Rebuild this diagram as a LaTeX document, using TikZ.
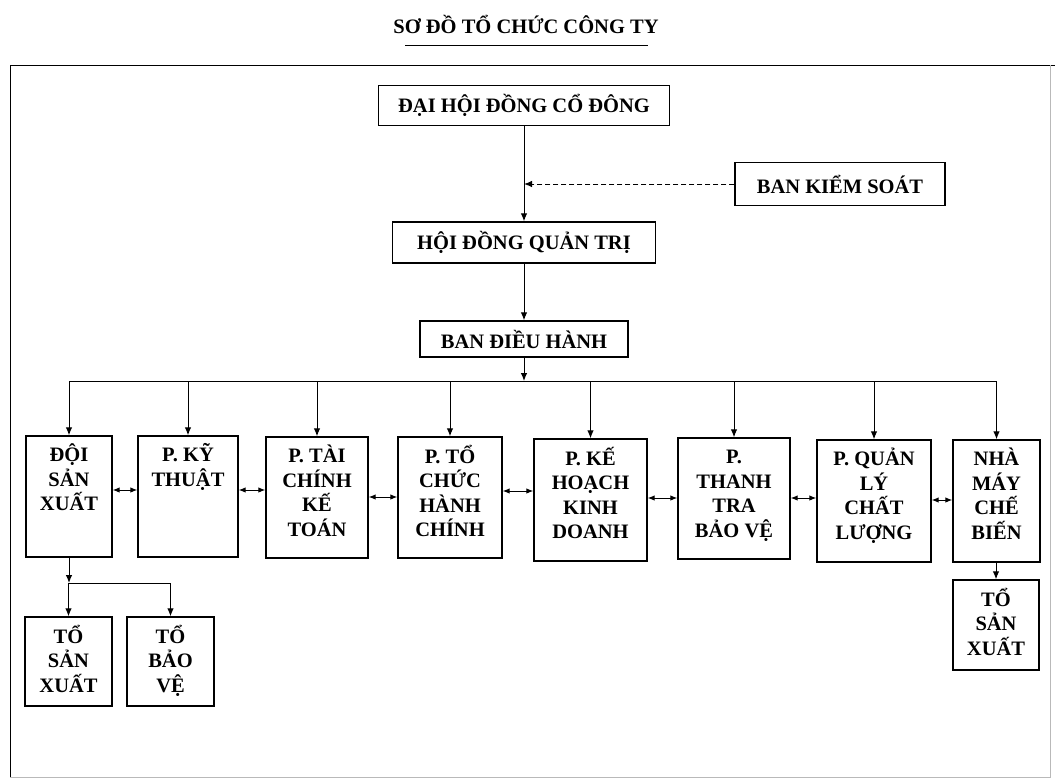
\documentclass[tikz,border=0pt]{standalone}
\usepackage{fontspec}
\setmainfont{Liberation Serif}
\usetikzlibrary{arrows.meta}

\newcommand{\topstrut}{\rule{0pt}{18pt}}

\tikzset{every picture/.style={line width=1pt}}
\tikzset{
  orgbox/.style={draw, line width=1.4pt, inner sep=0pt, font=\bfseries\fontsize{20.5}{25}\selectfont},
  boxtext/.style={align=center, inner sep=0pt, anchor=north, font=\bfseries\fontsize{20.5}{24.5}\selectfont},
  arr/.style={-{Latex[length=8pt,width=6.5pt]}},
  darr/.style={{Latex[length=7pt,width=5.5pt]}-{Latex[length=7pt,width=5.5pt]}}
}

\begin{document}
\begin{tikzpicture}[x=1pt,y=1pt,yscale=-1,xscale=1]
\useasboundingbox (0,0) rectangle (1055,780);

% Title
\node[font=\bfseries\fontsize{20.5}{24}\selectfont, anchor=base] (title) at (526,33) {SƠ ĐỒ TỔ CHỨC CÔNG TY};
\draw (405,45) -- (648,45);

%Shape: Frame
\draw (10,777) -- (10,65) -- (1055,65);
\draw[gray!55, line width=0.6pt] (10,777) -- (1050,777) -- (1050,65);

%Shape: Top boxes
\node[orgbox, minimum width=291, minimum height=40] (dhd) at (524,105.5) {ĐẠI HỘI ĐỒNG CỔ ĐÔNG};
\node[orgbox, minimum width=210, minimum height=43] (bks) at (840,184) {BAN KIỂM SOÁT};
\node[orgbox, minimum width=263, minimum height=41] (hdqt) at (524,242.5) {HỘI ĐỒNG QUẢN TRỊ};
\node[orgbox, minimum width=208, minimum height=36] (bdh) at (524,339) {BAN ĐIỀU HÀNH};

%Shape: Departments
\node[orgbox, minimum width=86, minimum height=121] (dsx) at (69,496.5) {};
\node[orgbox, minimum width=100, minimum height=121] (kt) at (188,496.5) {};
\node[orgbox, minimum width=102, minimum height=121] (tckt) at (317,497.5) {};
\node[orgbox, minimum width=104, minimum height=121] (tchc) at (450,497.5) {};
\node[orgbox, minimum width=113, minimum height=122] (khkd) at (590.5,500) {};
\node[orgbox, minimum width=112, minimum height=121] (ttbv) at (734,498.5) {};
\node[orgbox, minimum width=114, minimum height=122] (qlcl) at (874,501) {};
\node[orgbox, minimum width=87, minimum height=122] (nmcb) at (996.5,501) {};

%Shape: Teams
\node[orgbox, minimum width=87, minimum height=89] (tsx) at (68.5,661.5) {};
\node[orgbox, minimum width=87, minimum height=89] (tbv) at (170.5,661.5) {};
\node[orgbox, minimum width=86, minimum height=90] (tsxb) at (996,625) {};

% Text Node
\node[boxtext] (dsxt) at ([yshift=8pt]dsx.north) {\topstrut ĐỘI\\SẢN\\XUẤT};
\node[boxtext] (ktt) at ([yshift=8pt]kt.north) {\topstrut P. KỸ\\THUẬT};
\node[boxtext] (tcktt) at ([yshift=8pt]tckt.north) {\topstrut P. TÀI\\CHÍNH\\KẾ\\TOÁN};
\node[boxtext] (tchct) at ([yshift=8pt]tchc.north) {\topstrut P. TỔ\\CHỨC\\HÀNH\\CHÍNH};
\node[boxtext] (khkdt) at ([yshift=8pt]khkd.north) {\topstrut P. KẾ\\HOẠCH\\KINH\\DOANH};
\node[boxtext] (ttbvt) at ([yshift=8pt]ttbv.north) {\topstrut P.\\THANH\\TRA\\BẢO VỆ};
\node[boxtext] (qlclt) at ([yshift=8pt]qlcl.north) {\topstrut P. QUẢN\\LÝ\\CHẤT\\LƯỢNG};
\node[boxtext] (nmcbt) at ([yshift=8pt]nmcb.north) {\topstrut NHÀ\\MÁY\\CHẾ\\BIẾN};
\node[boxtext] (tsxt) at ([yshift=8pt]tsx.north) {\topstrut TỔ\\SẢN\\XUẤT};
\node[boxtext] (tbvt) at ([yshift=8pt]tbv.north) {\topstrut TỔ\\BẢO\\VỆ};
\node[boxtext] (tsxbt) at ([yshift=8pt]tsxb.north) {\topstrut TỔ\\SẢN\\XUẤT};

%Straight Lines: main line
\draw[arr] (dhd.south) -- (hdqt.north);
\draw[arr] (hdqt.south) -- (bdh.north);
\draw[dash pattern=on 5pt off 3pt, arr] (bks.west) -- (bks.west -| dhd.south);

%Straight Lines: bus to departments
\coordinate (bus) at (524,381);
\draw[arr] (bdh.south) -- (bus);
\draw (dsx.north |- bus) -- (nmcb.north |- bus);
\foreach \d in {dsx,kt,tckt,tchc,khkd,ttbv,qlcl,nmcb}
  \draw[arr] (\d.north |- bus) -- (\d.north);

%Straight Lines: between departments
\draw[darr] (dsx.east |- 0,490) -- (kt.west |- 0,490);
\draw[darr] (kt.east |- 0,490) -- (tckt.west |- 0,490);
\draw[darr] (tckt.east |- 0,497) -- (tchc.west |- 0,497);
\draw[darr] (tchc.east |- 0,491) -- (khkd.west |- 0,491);
\draw[darr] (khkd.east |- 0,498) -- (ttbv.west |- 0,498);
\draw[darr] (ttbv.east |- 0,498) -- (qlcl.west |- 0,498);
\draw[darr] (qlcl.east |- 0,500) -- (nmcb.west |- 0,500);

%Straight Lines: teams
\coordinate (subbus) at (69,583);
\draw[arr] (dsx.south) -- (subbus);
\draw (tsx.north |- subbus) -- (tbv.north |- subbus);
\draw[arr] (tsx.north |- subbus) -- (tsx.north);
\draw[arr] (tbv.north |- subbus) -- (tbv.north);
\draw[arr] (nmcb.south -| tsxb.north) -- (tsxb.north);

\end{tikzpicture}
\end{document}
